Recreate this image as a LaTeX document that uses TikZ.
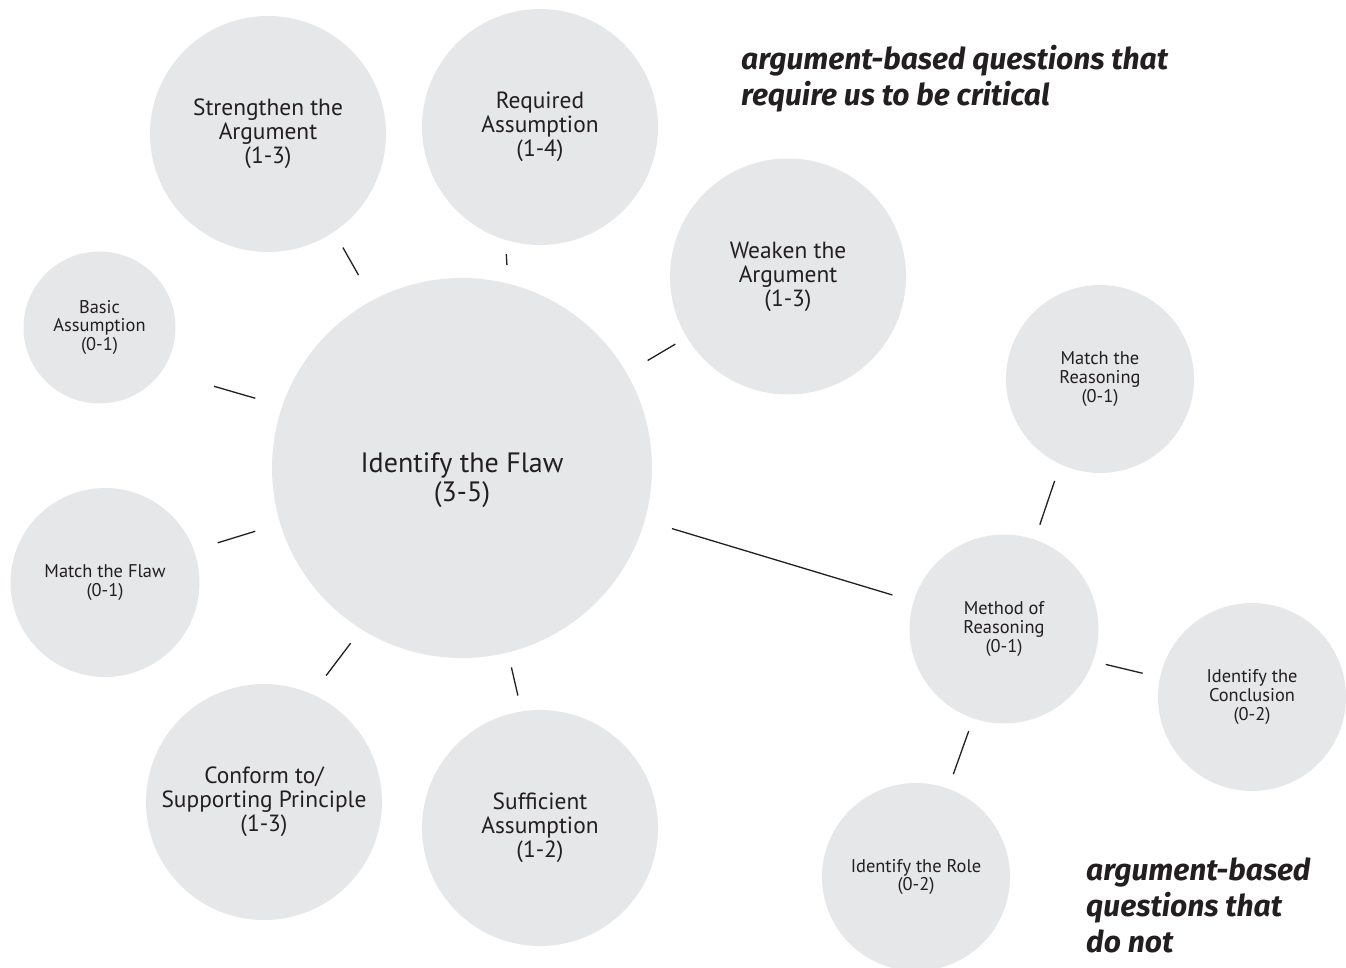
\documentclass[tikz,border=0pt]{standalone}
\usepackage{fontspec}
\setmainfont{PT Sans}
\newfontfamily\headfont{Fira Sans}
\definecolor{bubble}{HTML}{E6E7E8}
\definecolor{ink}{HTML}{231F20}
\begin{document}
\begin{tikzpicture}[x=1pt,y=-1pt,
  bub/.style={circle, fill=bubble, inner sep=0pt, outer sep=0pt, align=center, text=ink},
  big/.style={bub, minimum size=236pt, font=\fontsize{23.4}{24}\selectfont},
  small/.style={bub, minimum size=188pt, font=\fontsize{18.4}{18.6}\selectfont},
  conn/.style={draw=ink, line width=1.3pt},
  head/.style={anchor=north west, inner sep=0pt, align=left, text=ink,
    font=\headfont\fontsize{30}{36}\selectfont\bfseries\itshape}]
\useasboundingbox (0,0) rectangle (1346,968);
% bubbles
\node[big] (str) at (268,134) {Strengthen the\\Argument\\(1-3)};
\node[big] (req) at (540,127) {Required\\Assumption\\(1-4)};
\node[big] (weak) at (788,276.5) {Weaken the\\Argument\\(1-3)};
\node[small, minimum size=152pt] (basic) at (99.5,327.5) {Basic\\Assumption\\(0-1)};
\node[bub, minimum size=380pt,
  label={[font=\fontsize{28}{29.5}\selectfont, text=ink, align=center, yshift=-12pt]center:{Identify the Flaw\\(3-5)}}] (flaw) at (462,468) {};
\node[small, minimum size=189pt] (mflaw) at (105,582.5) {Match the Flaw\\(0-1)};
\node[big] (conf) at (264,802) {Conform to/\\Supporting Principle\\(1-3)};
\node[big] (suff) at (540,828) {Sufficient\\Assumption\\(1-2)};
\node[small] (mreas) at (1100,379) {Match the\\Reasoning\\(0-1)};
\node[small, minimum size=189pt] (meth) at (1004,629) {Method of\\Reasoning\\(0-1)};
\node[small] (concl) at (1252,697) {Identify the\\Conclusion\\(0-2)};
\node[small] (role) at (916,877) {Identify the Role\\(0-2)};
% connectors
\draw[conn, shorten <=18.1pt, shorten >=29pt] (str.-56.5) -- (flaw.118.8);
\draw[conn, shorten <=14.3pt, shorten >=18.6pt] (req.-107.3) -- (flaw.76.9);
\draw[conn, shorten <=13.5pt, shorten >=24.5pt] (weak.-149.3) -- (flaw.30.7);
\draw[conn, shorten <=54.4pt, shorten >=28.1pt] (basic.-35.7) -- (flaw.161.8);
\draw[conn, shorten <=25pt, shorten >=26.2pt] (mflaw.20.4) -- (flaw.-163.8);
\draw[conn, shorten <=23.4pt, shorten >=17.6pt] (conf.66.5) -- (flaw.-122.5);
\draw[conn, shorten <=16.3pt, shorten >=15.4pt] (suff.99.3) -- (flaw.-76.5);
\draw[conn, shorten <=28.6pt, shorten >=22.2pt] (flaw.-16.4) -- (meth.163.1);
\draw[conn, shorten <=17.6pt, shorten >=15.8pt] (mreas.-115.1) -- (meth.71.9);
\draw[conn, shorten <=13.3pt, shorten >=17.9pt] (meth.-20.8) -- (concl.168.9);
\draw[conn, shorten <=13.4pt, shorten >=15.3pt] (meth.-109.5) -- (role.70.4);
% headings
\node[head] (h1) at (741,45) {argument-based questions that\\require us to be critical};
\node[head] (h2) at (1086,858) {argument-based\\questions that\\do not};
\end{tikzpicture}
\end{document}
